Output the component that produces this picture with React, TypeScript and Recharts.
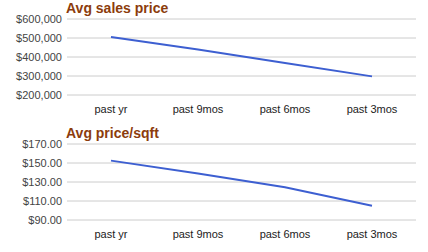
import React from 'react';
import { LineChart, Line, XAxis, YAxis, CartesianGrid } from 'recharts';

const periods = ['past yr', 'past 9mos', 'past 6mos', 'past 3mos'];
const salesPrice = [505000, 440000, 368000, 298000];
const pricePerSqft = [152.5, 139, 124.5, 105];
const salesTicks = [200000, 300000, 400000, 500000, 600000];
const sqftTicks = [90, 110, 130, 150, 170];

const FONT = 'Arial, "Liberation Sans", sans-serif';

interface MiniChartProps {
  title: string;
  values: number[];
  ticks: number[];
  format: (v: number) => string;
  top: number;
}

const MiniChart: React.FC<MiniChartProps> = ({ title, values, ticks, format, top }) => {
  const data = periods.map((p, i) => ({ name: p, value: values[i] }));
  return (
    <div style={{ position: 'absolute', left: 0, top, width: 428, height: 125 }}>
      <div
        style={{
          position: 'absolute',
          left: 66,
          top: 1,
          fontFamily: FONT,
          fontSize: 14,
          lineHeight: '14px',
          fontWeight: 'bold',
          color: '#8c3c0c',
          whiteSpace: 'nowrap',
        }}
      >
        {title}
      </div>
      <LineChart width={428} height={125} data={data} margin={{ top: 19, right: 12, left: 0, bottom: 0 }}>
        <CartesianGrid vertical={false} stroke="#cccccc" />
        <XAxis
          dataKey="name"
          axisLine={false}
          tickLine={false}
          tickSize={0}
          tickMargin={10}
          height={30}
          interval={0}
          padding={{ left: 44, right: 44 }}
          tick={{ fill: '#222', fontSize: 11, fontFamily: FONT }}
        />
        <YAxis
          domain={[ticks[0], ticks[ticks.length - 1]]}
          ticks={ticks}
          axisLine={false}
          tickLine={false}
          tickSize={0}
          tickMargin={5}
          width={67}
          interval={0}
          tickFormatter={format}
          tick={{ fill: '#444', fontSize: 11, fontFamily: FONT }}
        />
        <Line
          type="linear"
          dataKey="value"
          stroke="#3d5fd1"
          strokeWidth={2}
          dot={false}
          activeDot={false}
          isAnimationActive={false}
        />
      </LineChart>
    </div>
  );
};

export default function App() {
  return (
    <div style={{ position: 'absolute', left: 0, top: 0, width: 428, height: 252, background: '#fff' }}>
      <MiniChart
        title="Avg sales price"
        values={salesPrice}
        ticks={salesTicks}
        format={(v) => '$' + v.toLocaleString('en-US')}
        top={0}
      />
      <MiniChart
        title="Avg price/sqft"
        values={pricePerSqft}
        ticks={sqftTicks}
        format={(v) => '$' + v.toFixed(2)}
        top={125}
      />
    </div>
  );
}
